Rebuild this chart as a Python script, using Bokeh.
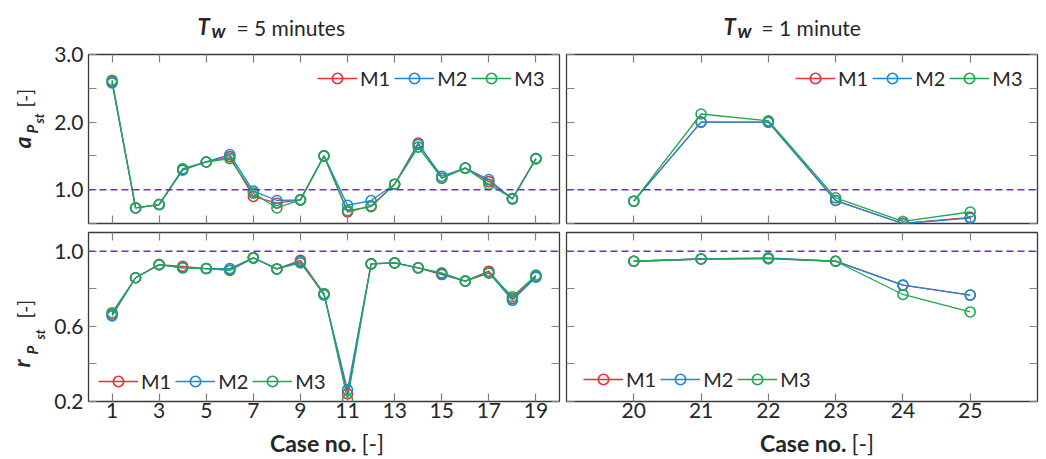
import math
from bokeh.plotting import figure
from bokeh.layouts import gridplot, column, row
from bokeh.models import (LinearAxis, FixedTicker, PrintfTickFormatter, Span,
                          Label, Legend)
from bokeh.embed import file_html
from bokeh.resources import INLINE

# ---------------- data ----------------
cases_left = list(range(1, 20))
cases_right = list(range(20, 26))

a_m1_left = [2.60, 0.73, 0.78, 1.30, 1.41, 1.49, 0.90, 0.80, 0.85, 1.50,
             0.67, 0.76, 1.08, 1.69, 1.17, 1.32, 1.12, 0.87, 1.46]
a_m2_left = [2.58, 0.73, 0.78, 1.29, 1.41, 1.52, 0.98, 0.84, 0.85, 1.50,
             0.77, 0.84, 1.08, 1.67, 1.20, 1.32, 1.15, 0.86, 1.46]
a_m3_left = [2.62, 0.73, 0.78, 1.31, 1.41, 1.46, 0.95, 0.73, 0.85, 1.50,
             0.69, 0.75, 1.08, 1.63, 1.17, 1.32, 1.08, 0.87, 1.46]

r_m1_left = [0.665, 0.859, 0.929, 0.920, 0.908, 0.900, 0.965, 0.906, 0.952, 0.774,
             0.241, 0.933, 0.938, 0.912, 0.876, 0.841, 0.894, 0.748, 0.866]
r_m2_left = [0.656, 0.859, 0.929, 0.912, 0.908, 0.908, 0.965, 0.906, 0.945, 0.767,
             0.262, 0.933, 0.938, 0.912, 0.880, 0.841, 0.885, 0.739, 0.862]
r_m3_left = [0.673, 0.859, 0.929, 0.912, 0.908, 0.898, 0.965, 0.906, 0.938, 0.774,
             0.211, 0.933, 0.938, 0.912, 0.885, 0.841, 0.885, 0.758, 0.873]

a_m1_right = [0.83, 2.00, 2.00, 0.84, 0.50, 0.59]
a_m2_right = [0.83, 2.00, 2.00, 0.84, 0.50, 0.58]
a_m3_right = [0.83, 2.12, 2.02, 0.88, 0.53, 0.67]

r_m1_right = [0.947, 0.959, 0.961, 0.947, 0.820, 0.767]
r_m2_right = [0.947, 0.959, 0.965, 0.947, 0.820, 0.767]
r_m3_right = [0.947, 0.959, 0.961, 0.947, 0.770, 0.677]

series_names = ["M1", "M2", "M3"]
series_colors = ["#e8303a", "#1a8ad4", "#1fa84f"]

a_ticks = [0.5, 1.0, 1.5, 2.0, 2.5, 3.0]
a_labels = {0.5: "", 1.0: "1.0", 1.5: "", 2.0: "2.0", 2.5: "", 3.0: "3.0"}
r_ticks = [0.2, 0.4, 0.6, 0.8, 1.0]
r_labels = {0.2: "0.2", 0.4: "", 0.6: "0.6", 0.8: "", 1.0: "1.0"}
x_ticks_left = [1, 3, 5, 7, 9, 11, 13, 15, 17, 19]
x_ticks_right = [20, 21, 22, 23, 24, 25]

titles = ["= 5 minutes", "= 1 minute"]
xlabel_main = "Case no."
unit_text = "[-]"

FONT = "Lato"
TXT = "#262626"
REF_COLOR = "#6b2fc4"

# ---------------- layout (page pixels) ----------------
TOTAL_W = 1045
FW = 471
FH = 169
TITLE_H = 41
YLAB_W = 48
XLAB_H = 30
BASE_CORR = 0.35   # anchor -> visual baseline shift (em)


def text_fig(w, h):
    p = figure(width=w, height=h, x_range=(0, w), y_range=(0, h),
               x_axis_type=None, y_axis_type=None, output_backend="svg",
               toolbar_location=None, min_border=0,
               background_fill_color="white", border_fill_color="white")
    p.grid.visible = False
    p.outline_line_color = None
    return p


def put(p, ox, oy, px, py, text, size, style="normal", align="left", rotated=False):
    """text whose visual baseline lies at page pixel (px, py)"""
    h = p.y_range.end
    if rotated:
        px = px - BASE_CORR * size
    else:
        py = py - BASE_CORR * size
    p.add_layout(Label(x=px - ox, y=h - (py - oy), text=text, text_font=FONT,
                       text_font_size=f"{size}px", text_font_style=style,
                       text_color=TXT, text_align=align,
                       text_baseline="alphabetic",
                       angle=math.pi / 2 if rotated else 0.0))


def make_panel(xs, ys_list, xr, yr, xticks, yticks, ylabels, is_left, is_top,
               legend_loc):
    bl = 40 if is_left else 4
    br = 3 if is_left else 8
    bt = 13 if is_top else 5
    bb = 4 if is_top else 27
    p = figure(width=bl + FW + br, height=bt + FH + bb,
               x_range=xr, y_range=yr, output_backend="svg",
               toolbar_location=None, min_border_left=bl, min_border_right=br,
               min_border_top=bt, min_border_bottom=bb,
               background_fill_color="white", border_fill_color="white")
    p.grid.visible = False
    p.outline_line_color = "#3a3a3a"
    p.outline_line_width = 1.3
    p.add_layout(LinearAxis(), "above")
    p.add_layout(LinearAxis(), "right")
    for ax in p.xaxis:
        ax.ticker = FixedTicker(ticks=xticks, minor_ticks=[])
    for ax in p.yaxis:
        ax.ticker = FixedTicker(ticks=yticks, minor_ticks=[])
        ax.formatter = PrintfTickFormatter(format="%.1f")
        ax.major_label_overrides = ylabels
    for ax in p.xaxis + p.yaxis:
        ax.axis_line_color = None
        ax.major_tick_in = 8
        ax.major_tick_out = 0
        ax.major_tick_line_color = "#808080"
        ax.major_tick_line_width = 1.2
        ax.minor_tick_line_color = None
        ax.major_label_text_font = FONT
        ax.major_label_text_font_size = "1px"
        ax.major_label_standoff = 0
        ax.major_label_text_color = None
    if is_left:
        ax = p.left[0]
        ax.major_label_text_font_size = "21px"
        ax.major_label_standoff = 5
        ax.major_label_text_color = TXT
    if not is_top:
        ax = p.below[0]
        ax.major_label_text_font_size = "21px"
        ax.major_label_standoff = 1
        ax.major_label_text_color = TXT

    p.add_layout(Span(location=1.0, dimension="width", line_color=REF_COLOR,
                      line_dash="7 4", line_width=1.5))

    items = []
    for name, col, ys in zip(series_names, series_colors, ys_list):
        ln = p.line(xs, ys, line_color=col, line_width=1.3)
        sc = p.scatter(xs, ys, marker="circle", size=10, fill_color=None,
                       line_color=col, line_width=1.6)
        items.append((name, [ln, sc]))
    leg = Legend(items=items, orientation="horizontal", location=legend_loc,
                 background_fill_alpha=0, border_line_color=None,
                 label_text_font=FONT, label_text_font_size="20px",
                 label_text_color=TXT, glyph_width=40, glyph_height=26,
                 label_standoff=3, spacing=4, padding=1, margin=0)
    p.add_layout(leg, "center")
    return p


tl = make_panel(cases_left, [a_m1_left, a_m2_left, a_m3_left], (0, 20), (0.5, 3.0),
                x_ticks_left, a_ticks, a_labels, True, True, (229, 132))
tr = make_panel(cases_right, [a_m1_right, a_m2_right, a_m3_right], (19, 26), (0.5, 3.0),
                x_ticks_right, a_ticks, a_labels, False, True, (229, 132))
bl = make_panel(cases_left, [r_m1_left, r_m2_left, r_m3_left], (0, 20), (0.2, 1.1),
                x_ticks_left, r_ticks, r_labels, True, False, (10, 7))
br = make_panel(cases_right, [r_m1_right, r_m2_right, r_m3_right], (19, 26), (0.2, 1.1),
                x_ticks_right, r_ticks, r_labels, False, False, (17, 9))

panels = gridplot([[tl, tr], [bl, br]], toolbar_location=None)
panels_h = tl.height + bl.height

# ----- title strip -----
title_fig = text_fig(TOTAL_W, TITLE_H)
put(title_fig, 0, 0, 197, 34, "T", 22, "bold italic")
put(title_fig, 0, 0, 211, 37, "w", 19, "bold italic")
put(title_fig, 0, 0, 236, 34, titles[0], 21)
put(title_fig, 0, 0, 723, 34, "T", 22, "bold italic")
put(title_fig, 0, 0, 737, 37, "w", 19, "bold italic")
put(title_fig, 0, 0, 761, 34, titles[1], 21)

# ----- y label strip (rotated, reading upwards) -----
ylab_fig = text_fig(YLAB_W, panels_h)
oy = TITLE_H
put(ylab_fig, 0, oy, 30, 148, "a", 23, "bold italic", rotated=True)
put(ylab_fig, 0, oy, 37, 133, "P", 15, "bold italic", rotated=True)
put(ylab_fig, 0, oy, 43, 123, "st", 13, "bold italic", rotated=True)
put(ylab_fig, 0, oy, 31, 107, unit_text, 19, rotated=True)
put(ylab_fig, 0, oy, 29, 367, "r", 23, "bold italic", rotated=True)
put(ylab_fig, 0, oy, 37, 354, "P", 15, "bold italic", rotated=True)
put(ylab_fig, 0, oy, 44, 339, "st", 13, "bold italic", rotated=True)
put(ylab_fig, 0, oy, 31, 318, unit_text, 19, rotated=True)

# ----- x label strip -----
xlab_fig = text_fig(TOTAL_W, XLAB_H)
oy = TITLE_H + panels_h
put(xlab_fig, 0, oy, 356, 451, xlabel_main, 23, "bold", align="right")
put(xlab_fig, 0, oy, 361, 451, unit_text, 23)
put(xlab_fig, 0, oy, 846, 451, xlabel_main, 23, "bold", align="right")
put(xlab_fig, 0, oy, 851, 451, unit_text, 23)

layout = column(title_fig, row(ylab_fig, panels), xlab_fig)

open("out.html", "w").write(file_html(layout, INLINE))
